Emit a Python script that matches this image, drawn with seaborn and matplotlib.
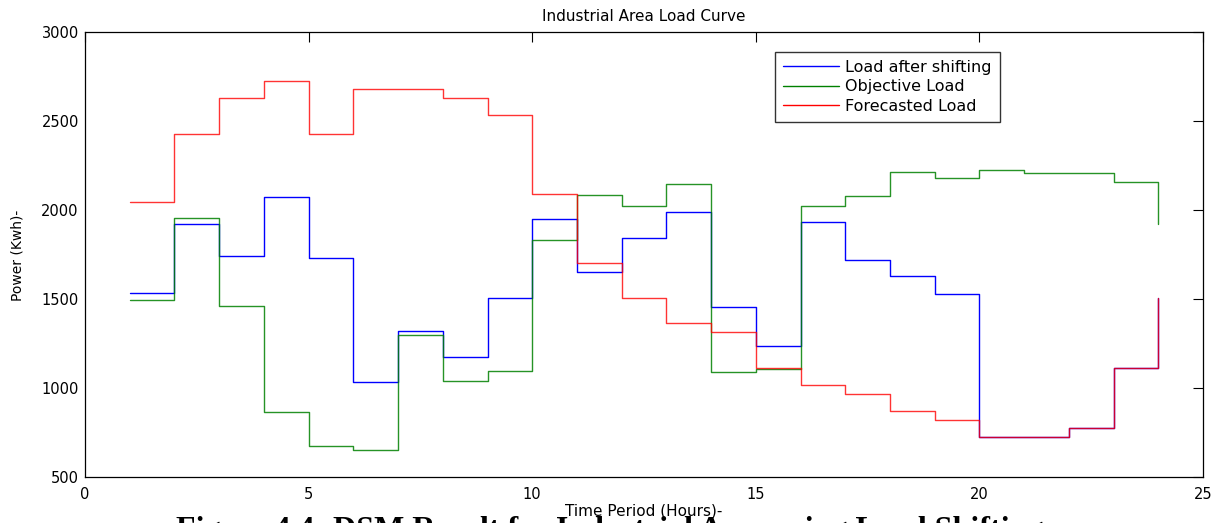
import matplotlib
matplotlib.use("Agg")
import matplotlib.pyplot as plt
import seaborn as sns
import pandas as pd

# Hourly loads for the industrial area (kWh)
hours = list(range(1, 25))
load_after_shifting = [1535, 1925, 1745, 2075, 1730, 1035, 1320, 1175, 1510, 1950,
                       1655, 1845, 1990, 1455, 1240, 1935, 1720, 1630, 1530, 730,
                       730, 780, 1115, 1510]
objective_load = [1495, 1955, 1465, 870, 675, 655, 1300, 1040, 1100, 1835,
                  2085, 2025, 2150, 1095, 1110, 2025, 2080, 2215, 2180, 2225,
                  2210, 2210, 2160, 1925]
forecasted_load = [2045, 2430, 2630, 2725, 2430, 2680, 2680, 2630, 2535, 2090,
                   1705, 1510, 1365, 1315, 1115, 1020, 970, 875, 825, 730,
                   730, 780, 1115, 1510]

series_names = ["Load after shifting", "Objective Load", "Forecasted Load"]
series_values = [load_after_shifting, objective_load, forecasted_load]
series_colors = ["#0000ff", "#008000", "#ff0000"]
series_alpha = [1.0, 0.85, 0.8]

x_ticks = [0, 5, 10, 15, 20, 25]
y_ticks = [500, 1000, 1500, 2000, 2500, 3000]

sns.set_theme(style="white")
plt.rcParams["font.family"] = ["DejaVu Sans"]
plt.rcParams["text.color"] = "black"
plt.rcParams["axes.labelcolor"] = "black"

fig = plt.figure(figsize=(12.32, 5.23), dpi=100)
ax = fig.add_axes([0.069, 0.087, 0.9075, 0.8513])

for name, vals, col, a in zip(series_names, series_values, series_colors, series_alpha):
    df = pd.DataFrame({"hour": hours, "load": vals})
    sns.lineplot(data=df, x="hour", y="load", ax=ax, color=col, alpha=a,
                 linewidth=1.0, drawstyle="steps-post", label=name)

ax.set_xlim(0, 25)
ax.set_ylim(500, 3000)
ax.set_xticks(x_ticks)
ax.set_yticks(y_ticks)
ax.tick_params(axis="both", direction="in", length=7, width=0.8, colors="black",
               top=True, right=True, labelsize=10.5)
ax.tick_params(axis="x", pad=7)
ax.tick_params(axis="y", pad=4.5)
for sp in ax.spines.values():
    sp.set_color("black")
    sp.set_linewidth(0.9)

ax.set_title("Industrial Area Load Curve", fontsize=11, pad=8, color="black")
ax.set_xlabel("Time Period (Hours)-", fontsize=11, labelpad=1, color="black")
ax.set_ylabel("Power (Kwh)-", fontsize=10, labelpad=12, color="black")

leg = ax.legend(loc="upper left", bbox_to_anchor=(0.617, 0.956), borderaxespad=0,
                fontsize=11.5, frameon=True, fancybox=False, shadow=False,
                handlelength=3.5, handletextpad=0.4, labelspacing=0.28,
                borderpad=0.5)
leg.get_frame().set_edgecolor("black")
leg.get_frame().set_linewidth(1.0)
for txt in leg.get_texts():
    txt.set_color("black")
for line in leg.get_lines():
    line.set_alpha(1.0)
    line.set_linewidth(1.0)

fig.text(0.495, -0.029, "Figure 4.4: DSM Result for Industrial Area using Load Shifting",
         ha="center", va="baseline", fontsize=23, fontweight="bold",
         family=["Liberation Serif"], color="black")

fig.savefig("out.png", dpi=100)
